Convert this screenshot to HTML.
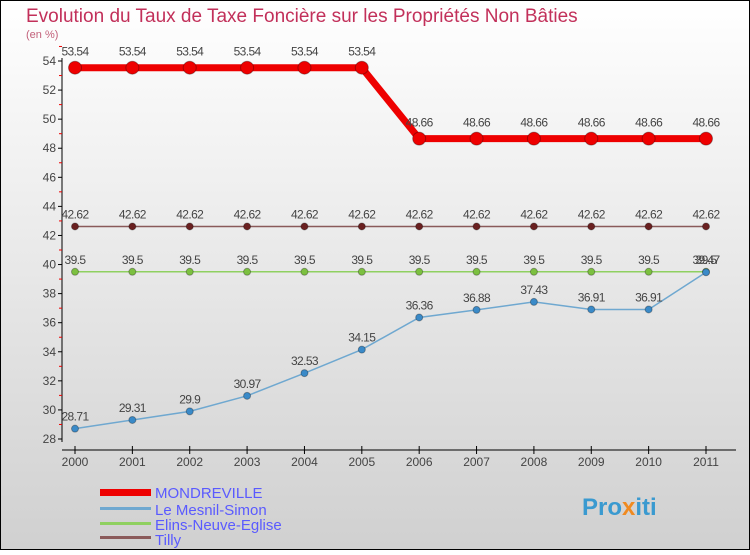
<!DOCTYPE html>
<html><head><meta charset="utf-8"><style>
html,body{margin:0;padding:0}
body{width:750px;height:550px;overflow:hidden;font-family:"Liberation Sans",sans-serif}
</style></head><body>
<svg id="chart" width="750" height="550" xmlns="http://www.w3.org/2000/svg">
<defs><linearGradient id="bg" x1="0" y1="0" x2="0" y2="1"><stop offset="0" stop-color="#ffffff"/><stop offset="1" stop-color="#d0d0d0"/></linearGradient></defs>
<rect x="0.5" y="0.5" width="749" height="549" fill="url(#bg)" stroke="#000"/>
<text x="26" y="22" font-size="19" fill="#c2305a">Evolution du Taux de Taxe Foncière sur les Propriétés Non Bâties</text>
<text x="26" y="38" font-size="11" fill="#c2607a">(en %)</text>
<g id="axes"></g><g id="series"></g>
<g>
<rect x="100" y="489" width="51" height="7" fill="#e00"/>
<text x="155" y="498" font-size="15" fill="#5a5aff">MONDREVILLE</text>
<rect x="100" y="507" width="51" height="3" fill="#6fa8d0"/>
<text x="155" y="515" font-size="15" fill="#5a5aff">Le Mesnil-Simon</text>
<rect x="100" y="522" width="51" height="3" fill="#8fd060"/>
<text x="155" y="530" font-size="15" fill="#5a5aff">Elins-Neuve-Eglise</text>
<rect x="100" y="536" width="51" height="3" fill="#8a5a5a"/>
<text x="155" y="545" font-size="15" fill="#5a5aff">Tilly</text>
</g>
<text x="582" y="515" font-size="24" font-weight="bold" fill="#3a9ad0">Pro<tspan fill="#f08a20">x</tspan>iti</text>
</svg>
<script>
const years=["2000","2001","2002","2003","2004","2005","2006","2007","2008","2009","2010","2011"];
const yTicks=[28,30,32,34,36,38,40,42,44,46,48,50,52,54];
const mondreville=[53.54,53.54,53.54,53.54,53.54,53.54,48.66,48.66,48.66,48.66,48.66,48.66];
const mesnil=[28.71,29.31,29.9,30.97,32.53,34.15,36.36,36.88,37.43,36.91,36.91,39.47];
const elins=[39.5,39.5,39.5,39.5,39.5,39.5,39.5,39.5,39.5,39.5,39.5,39.5];
const tilly=[42.62,42.62,42.62,42.62,42.62,42.62,42.62,42.62,42.62,42.62,42.62,42.62];
const NS="http://www.w3.org/2000/svg";
const xs=i=>75+i*(631/11);
const ys=v=>61+(54-v)*(378/26);
function mk(p,t,a){const e=document.createElementNS(NS,t);for(const k in a)e.setAttribute(k,a[k]);p.appendChild(e);return e;}
const ax=document.getElementById('axes');
const yl=mk(ax,'line',{x1:62,y1:58,x2:62,y2:442,stroke:'#000'});


const xl=mk(ax,'line',{x1:62,y1:450,x2:736,y2:450,stroke:'#000'});


yTicks.forEach(v=>{
  mk(ax,'line',{x1:58,y1:ys(v),x2:62,y2:ys(v),stroke:'#000'});
  mk(ax,'line',{x1:59,y1:ys(v+1),x2:62,y2:ys(v+1),stroke:'#e00'});
  const t=mk(ax,'text',{x:56,y:ys(v)+4,'font-size':12,fill:'#444','text-anchor':'end'});
  t.textContent=v;
  
  
});
years.forEach((y,i)=>{
  mk(ax,'line',{x1:xs(i),y1:446,x2:xs(i),y2:454,stroke:'#000'});
  const t=mk(ax,'text',{x:xs(i),y:466,'font-size':12,fill:'#444','text-anchor':'middle'});
  t.textContent=y;
  
  
});
const sg=document.getElementById('series');
function series(vals,name,color,w,r,dotFill,off){
  const g=mk(sg,'g',{});
  
  
  const pl=mk(g,'polyline',{points:vals.map((v,i)=>xs(i)+','+ys(v)).join(' '),fill:'none',stroke:color,'stroke-width':w});
  
  
  vals.forEach((v,i)=>{
    const c=mk(g,'circle',{cx:xs(i),cy:ys(v),r:r,fill:dotFill,stroke:'rgba(0,0,0,0.3)','stroke-width':1});
    
    
    const t=mk(g,'text',{x:xs(i),y:ys(v)-off,'font-size':12,fill:'#444','text-anchor':'middle','letter-spacing':'-0.6'});
    t.textContent=v;
    
    
  });
}
series(tilly,'tilly','#8a5a5a',1.5,3.5,'#6a2020',8);
series(elins,'elins','#8fd060',1.5,3.5,'#7cc040',8);
series(mesnil,'mesnil','#6fa8d0',1.5,3.5,'#3a8ac8',8);
series(mondreville,'mondreville','#e00',7,6.5,'#e00',12);
</script>
</body></html>
